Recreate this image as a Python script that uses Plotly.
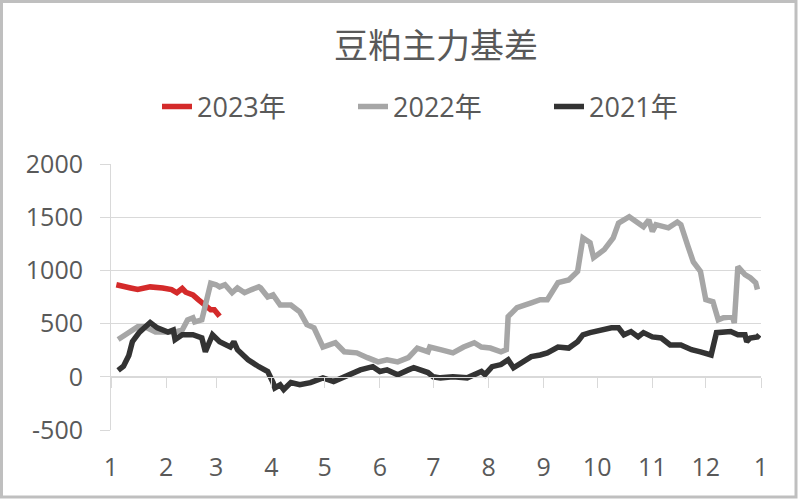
import plotly.graph_objects as go

# ---- data (x = day of year, y = basis) ----
days_2023 = [3, 7, 11, 15, 19, 22, 29, 34, 37, 40, 42, 46, 49, 53, 56, 58, 60, 61]
vals_2023 = [865, 845, 835, 820, 835, 845, 835, 820, 790, 830, 795, 770, 725, 675, 630, 630, 590, 570]

days_2022 = [4, 10, 15, 19, 25, 30, 36, 40, 43, 46,
             47, 51, 53, 55, 56, 59, 61, 64, 68, 71,
             75, 79, 83, 84, 88, 91, 95, 101, 106, 110,
             114, 119, 126, 131, 138, 144, 150, 155, 161, 167,
             172, 178, 179, 185, 192, 198, 204, 208, 213, 219,
             222, 223, 228, 236, 241, 245, 251, 257, 262, 265,
             269, 271, 275, 277, 282, 285, 291, 296, 299, 302,
             304, 306, 310, 313, 318, 320, 324, 327, 331, 334,
             338, 341, 344, 349, 350, 352, 356, 359, 362, 363]
vals_2022 = [350, 415, 470, 470, 420, 420, 420, 440, 535, 555,
             515, 535, 660, 820, 880, 865, 845, 865, 790, 835,
             790, 820, 845, 835, 750, 770, 675, 675, 610, 490,
             460, 280, 320, 235, 225, 180, 140, 160, 140, 180,
             270, 235, 280, 255, 225, 280, 320, 280, 270, 235,
             255, 565, 650, 695, 725, 725, 885, 910, 990, 1305,
             1260, 1120, 1175, 1195, 1305, 1445, 1505, 1455, 1410, 1475,
             1365, 1430, 1410, 1400, 1455, 1430, 1225, 1080, 990, 725,
             705, 535, 555, 565, 505, 1035, 960, 930, 885, 820]

days_2021 = [4, 7, 10, 12, 16, 19, 22, 26, 32, 35,
             36, 40, 46, 51, 53, 57, 61, 67, 69, 71,
             77, 83, 88, 91, 92, 95, 97, 101, 106, 112,
             119, 125, 131, 136, 140, 147, 151, 155, 161, 167,
             170, 178, 181, 185, 192, 200, 208, 210, 214, 219,
             223, 226, 230, 236, 241, 245, 251, 257, 262, 265,
             269, 275, 281, 285, 288, 292, 296, 299, 304, 309,
             314, 320, 326, 331, 337, 340, 344, 348, 352, 356,
             357, 359, 363, 364]
vals_2021 = [60, 100, 200, 330, 420, 470, 510, 460, 420, 440,
             350, 395, 395, 365, 235, 395, 330, 280, 330, 255,
             160, 95, 50, -55, -105, -75, -120, -55, -75, -55,
             -10, -45, 0, 35, 65, 95, 50, 65, 20, 65,
             85, 40, 0, -10, 0, -10, 50, 20, 95, 115,
             160, 85, 130, 190, 205, 225, 280, 270, 330, 395,
             415, 440, 460, 460, 395, 425, 375, 415, 375, 365,
             300, 300, 255, 235, 205, 415, 415, 425, 395, 395,
             330, 365, 375, 395]

month_start_days = [0, 31, 59, 90, 120, 151, 181, 212, 243, 273, 304, 334, 365]
month_labels = ["1", "2", "3", "4", "5", "6", "7", "8", "9", "10", "11", "12", "1"]
y_ticks = [-500, 0, 500, 1000, 1500, 2000]
y_tick_labels = ["-500", "0", "500", "1000", "1500", "2000"]

title_text = "豆粕主力基差"
series = [
    ("2023年", days_2023, vals_2023, "#d42a2a"),
    ("2022年", days_2022, vals_2022, "#a6a6a6"),
    ("2021年", days_2021, vals_2021, "#333333"),
]

GRID = "#d9d9d9"
TXT = "#595959"

fig = go.Figure()
for name, d, v, c in series:
    fig.add_trace(go.Scatter(x=d, y=v, mode="lines", name=name,
                             line=dict(color=c, width=5.5)))

W, H = 800, 500
L, R, T, B = 111, 39, 164, 70
pw, ph = W - L - R, H - T - B

def px_x(p):
    return (p - L) / pw

def px_y(p):
    return (H - B - p) / ph

fig.update_layout(
    width=W, height=H,
    margin=dict(l=L, r=R, t=T, b=B),
    paper_bgcolor="white", plot_bgcolor="white",
    title=dict(text=title_text, x=0.5, xanchor="center", xref="paper",
               y=1 - 46 / H, yanchor="middle", yref="container",
               font=dict(family="Noto Sans CJK SC", size=34, color=TXT)),
    showlegend=True,
    legend=dict(orientation="h", x=px_x(157), xanchor="left",
                y=px_y(107), yanchor="middle",
                font=dict(family="Open Sans, Noto Sans CJK SC", size=27, color=TXT),
                entrywidth=151, entrywidthmode="pixels",
                bgcolor="rgba(0,0,0,0)"),
    xaxis=dict(range=[0, 365], tickmode="array", tickvals=month_start_days,
               ticktext=month_labels, showgrid=False, zeroline=False,
               showline=False, ticks="", ticklabelstandoff=20,
               tickfont=dict(family="Open Sans", size=25, color=TXT)),
    xaxis2=dict(range=[0, 365], overlaying="x", anchor="free", position=0.2,
                side="bottom", tickmode="array", tickvals=month_start_days,
                showticklabels=False, showgrid=False, zeroline=False,
                showline=True, linecolor=GRID, linewidth=1,
                ticks="outside", ticklen=10, tickcolor=GRID, tickwidth=1),
    yaxis=dict(range=[-500, 2000], tickmode="array", tickvals=y_ticks,
               ticktext=y_tick_labels,
               showgrid=True, gridcolor=GRID, gridwidth=1, zeroline=False,
               showline=True, linecolor=GRID, linewidth=1,
               ticks="outside", ticklen=10, tickcolor=GRID, ticklabelstandoff=12,
               tickfont=dict(family="Open Sans", size=25, color=TXT)),
    shapes=[dict(type="rect", xref="paper", yref="paper",
                 x0=px_x(1.5), x1=px_x(796), y0=px_y(497), y1=px_y(1.5),
                 line=dict(color="#bfbfbf", width=3), layer="below")],
)
# invisible trace to register xaxis2
fig.add_trace(go.Scatter(x=[0, 365], y=[None, None], xaxis="x2", showlegend=False,
                         hoverinfo="skip"))

fig.write_html("out.html", config={"displayModeBar": False},
               post_script="document.body.style.margin='0';document.body.style.padding='0';")
